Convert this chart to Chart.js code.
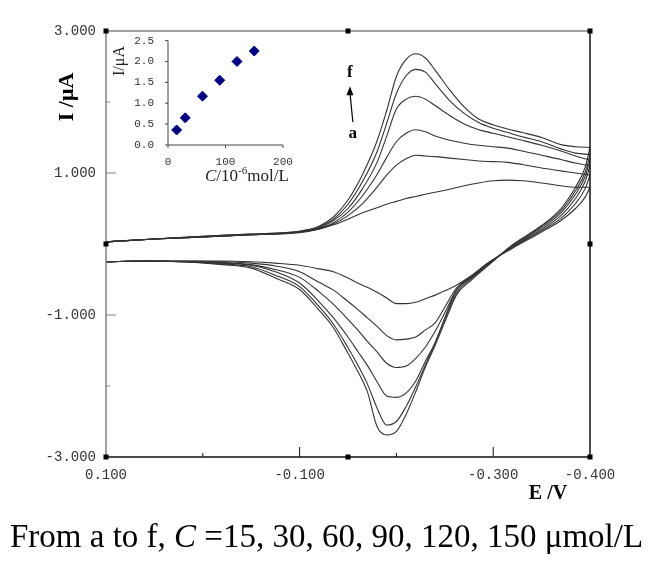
<!DOCTYPE html>
<html lang="en">
<head>
<meta charset="UTF-8">
<title>Cyclic voltammograms</title>
<script src="https://cdn.jsdelivr.net/npm/chart.js@4.4.0/dist/chart.umd.min.js"></script>
<style>
    body { margin: 0; background: #fff; }
    #wrap { position: relative; width: 657px; height: 565px; }
    #cv { position: absolute; left: 0; top: 0; }
    #inset { position: absolute; left: 100px; top: 20px; }
</style>
</head>
<body>
<div id="wrap">
    <canvas id="cv" width="657" height="565"></canvas>
    <canvas id="inset" width="210" height="175"></canvas>
</div>
<script>
// potentials (V): forward sweep 0.1 -> -0.4, then the return sweep back to 0.1
const fwdPotential = [0.1, 0.05, 0, -0.05, -0.1, -0.12, -0.135, -0.15, -0.165, -0.18, -0.19, -0.2, -0.21, -0.22,
    -0.23, -0.24, -0.255, -0.27, -0.285, -0.3, -0.315, -0.33, -0.35, -0.37, -0.385, -0.4];
const revPotential = [-0.395, -0.385, -0.37, -0.35, -0.32, -0.295, -0.278, -0.262, -0.25, -0.24, -0.23, -0.22,
    -0.21, -0.2, -0.19, -0.18, -0.17, -0.16, -0.15, -0.135, -0.12, -0.1, -0.075, -0.05, -0.02, 0.02, 0.06, 0.1];

// currents (uA), curve a (15 umol/L) ... f (150 umol/L)
const aFwd = [0.03, 0.07, 0.10, 0.13, 0.16, 0.21, 0.27, 0.35, 0.44, 0.51, 0.56, 0.60, 0.64, 0.67, 0.70, 0.73, 0.77, 0.82, 0.86, 0.89, 0.90, 0.89, 0.86, 0.82, 0.80, 0.80];
const aRev = [0.66, 0.50, 0.33, 0.17, -0.06, -0.26, -0.44, -0.58, -0.66, -0.72, -0.77, -0.82, -0.84, -0.84, -0.76, -0.68, -0.61, -0.55, -0.48, -0.39, -0.35, -0.30, -0.27, -0.25, -0.24, -0.24, -0.24, -0.25];
const bFwd = [0.03, 0.07, 0.10, 0.13, 0.17, 0.21, 0.28, 0.40, 0.57, 0.80, 0.97, 1.11, 1.20, 1.25, 1.24, 1.23, 1.21, 1.19, 1.17, 1.16, 1.15, 1.12, 1.07, 1.03, 1.00, 0.97];
const bRev = [0.78, 0.57, 0.36, 0.19, -0.05, -0.27, -0.45, -0.62, -0.89, -1.11, -1.21, -1.31, -1.34, -1.35, -1.29, -1.16, -1.04, -0.92, -0.81, -0.65, -0.54, -0.39, -0.31, -0.27, -0.25, -0.24, -0.24, -0.25];
const cFwd = [0.03, 0.07, 0.10, 0.13, 0.17, 0.22, 0.30, 0.45, 0.68, 0.98, 1.22, 1.44, 1.56, 1.61, 1.58, 1.52, 1.46, 1.42, 1.39, 1.37, 1.35, 1.31, 1.25, 1.19, 1.14, 1.10];
const cRev = [0.88, 0.64, 0.40, 0.21, -0.04, -0.27, -0.46, -0.65, -0.97, -1.23, -1.45, -1.61, -1.72, -1.74, -1.68, -1.52, -1.37, -1.21, -1.06, -0.85, -0.67, -0.47, -0.36, -0.29, -0.26, -0.25, -0.24, -0.25];
const dFwd = [0.03, 0.07, 0.10, 0.13, 0.17, 0.23, 0.33, 0.50, 0.78, 1.15, 1.52, 1.90, 2.04, 2.08, 2.04, 1.95, 1.81, 1.69, 1.61, 1.56, 1.51, 1.46, 1.39, 1.31, 1.24, 1.18];
const dRev = [0.95, 0.70, 0.44, 0.23, -0.03, -0.28, -0.47, -0.65, -1.04, -1.39, -1.65, -1.93, -2.10, -2.16, -2.14, -1.94, -1.71, -1.51, -1.31, -1.04, -0.81, -0.55, -0.39, -0.30, -0.27, -0.25, -0.24, -0.25];
const eFwd = [0.03, 0.07, 0.11, 0.14, 0.18, 0.24, 0.35, 0.56, 0.88, 1.30, 1.70, 2.12, 2.37, 2.46, 2.42, 2.26, 2.02, 1.84, 1.71, 1.63, 1.57, 1.51, 1.44, 1.34, 1.28, 1.26];
const eRev = [1.01, 0.75, 0.47, 0.25, -0.02, -0.29, -0.48, -0.69, -1.06, -1.39, -1.70, -2.01, -2.29, -2.50, -2.55, -2.31, -1.97, -1.70, -1.46, -1.13, -0.88, -0.60, -0.44, -0.32, -0.28, -0.25, -0.24, -0.25];
const fFwd = [0.03, 0.07, 0.11, 0.14, 0.18, 0.25, 0.38, 0.62, 0.98, 1.45, 1.88, 2.36, 2.60, 2.68, 2.62, 2.45, 2.17, 1.93, 1.76, 1.68, 1.62, 1.57, 1.50, 1.40, 1.37, 1.36];
const fRev = [1.08, 0.80, 0.50, 0.26, -0.01, -0.30, -0.50, -0.72, -1.10, -1.43, -1.73, -2.08, -2.40, -2.64, -2.69, -2.57, -2.08, -1.79, -1.54, -1.18, -0.93, -0.64, -0.48, -0.34, -0.29, -0.25, -0.24, -0.25];

const xTickValues = [0.1, 0, -0.1, -0.2, -0.3, -0.4];
const xTickLabels = ['0.100', '', '-0.100', '', '-0.300', '-0.400'];
const yTickValues = [-3, -2, -1, 0, 1, 2, 3];
const yTickLabels = ['-3.000', '', '-1.000', '', '1.000', '', '3.000'];

// inset: peak current vs concentration
const concentration = [15, 30, 60, 90, 120, 150];
const peakCurrent = [0.36, 0.65, 1.17, 1.55, 2.00, 2.25];

const curveFwd = [aFwd, bFwd, cFwd, dFwd, eFwd, fFwd];
const curveRev = [aRev, bRev, cRev, dRev, eRev, fRev];

// each sweep is its own dataset; the return sweep starts where the forward one ends
const sweeps = [];
curveFwd.forEach((fwd, k) => {
    sweeps.push(fwdPotential.map((e, i) => ({ x: e, y: fwd[i] })));
    const last = fwdPotential.length - 1;
    sweeps.push([{ x: fwdPotential[last], y: fwd[last] }]
        .concat(revPotential.map((e, i) => ({ x: e, y: curveRev[k][i] }))));
});

function line(ctx, x1, y1, x2, y2) {
    ctx.beginPath();
    ctx.moveTo(x1, y1);
    ctx.lineTo(x2, y2);
    ctx.stroke();
}

const serif = "'Liberation Serif', 'Times New Roman', serif";
const mono = "'Liberation Mono', 'DejaVu Sans Mono', monospace";

const mainDecor = {
    id: 'mainDecor',
    afterDraw(chart) {
        const ctx = chart.ctx;
        const a = chart.chartArea;
        const x = chart.scales.x, y = chart.scales.y;
        ctx.save();

        // frame: top/left grey, right/bottom dark
        ctx.lineWidth = 1.5;
        ctx.strokeStyle = '#808080';
        line(ctx, a.left, a.bottom, a.left, a.top);
        line(ctx, a.left, a.top, a.right, a.top);
        ctx.strokeStyle = '#111';
        line(ctx, a.right, a.top, a.right, a.bottom);
        line(ctx, a.left, a.bottom, a.right, a.bottom);

        // inward tick marks
        ctx.lineWidth = 1;
        xTickValues.forEach((v, i) => {
            if (i === 0 || i === xTickValues.length - 1) return;
            const px = x.getPixelForValue(v);
            line(ctx, px, a.bottom, px, a.bottom - (xTickLabels[i] ? 10 : 4));
        });
        ctx.strokeStyle = '#808080';
        yTickValues.forEach((v, i) => {
            if (i === 0 || i === yTickValues.length - 1 || v === 0) return;
            const py = y.getPixelForValue(v);
            line(ctx, a.left, py, a.left + (yTickLabels[i] ? 10 : 4), py);
        });

        // selection handles at corners and mid-edges
        ctx.fillStyle = '#000';
        const midX = (a.left + a.right) / 2, midY = y.getPixelForValue(0);
        [[a.left, a.top], [midX, a.top], [a.right, a.top], [a.left, midY], [a.right, midY],
         [a.left, a.bottom], [midX, a.bottom], [a.right, a.bottom]].forEach(p => {
            ctx.fillRect(p[0] - 2.5, p[1] - 2.5, 5, 5);
        });

        // axis titles
        ctx.fillStyle = '#000';
        ctx.font = 'bold 22px ' + serif;
        ctx.textAlign = 'center';
        ctx.textBaseline = 'middle';
        ctx.save();
        ctx.translate(67, 97);
        ctx.rotate(-Math.PI / 2);
        ctx.fillText('I /\u03bcA', 0, 0);
        ctx.restore();
        ctx.font = 'bold 20px ' + serif;
        ctx.fillText('E /V', 548, 494);

        // a -> f annotation
        ctx.font = 'bold 17px ' + serif;
        const fx = x.getPixelForValue(-0.152), fy = y.getPixelForValue(2.42);
        const ax = x.getPixelForValue(-0.155), ay = y.getPixelForValue(1.55);
        ctx.fillText('f', fx, fy);
        ctx.fillText('a', ax, ay);
        ctx.strokeStyle = '#000';
        ctx.lineWidth = 1.2;
        line(ctx, ax, ay - 12, fx, fy + 20);
        ctx.beginPath();
        ctx.moveTo(fx, fy + 14);
        ctx.lineTo(fx - 3.5, fy + 23);
        ctx.lineTo(fx + 3.5, fy + 23);
        ctx.closePath();
        ctx.fill();

        // caption
        ctx.textAlign = 'left';
        ctx.textBaseline = 'alphabetic';
        const parts = [['From a to f, ', ''], ['C', 'italic '], [' =15, 30, 60, 90, 120, 150 \u03bcmol/L', '']];
        let cx = 10;
        parts.forEach(p => {
            ctx.font = p[1] + '33px ' + serif;
            ctx.fillText(p[0], cx, 547);
            cx += ctx.measureText(p[0]).width;
        });
        ctx.restore();
    }
};

new Chart(document.getElementById('cv'), {
    type: 'scatter',
    data: {
        datasets: sweeps.map(pts => ({
            data: pts,
            showLine: true,
            borderColor: '#333',
            borderWidth: 1.1,
            pointRadius: 0,
            cubicInterpolationMode: 'monotone',
            fill: false
        }))
    },
    options: {
        responsive: false,
        animation: false,
        layout: { padding: { left: 0, top: 31, right: 67, bottom: 0 } },
        plugins: { legend: { display: false }, tooltip: { enabled: false } },
        scales: {
            x: {
                type: 'linear', min: -0.4, max: 0.1, reverse: true,
                afterBuildTicks: s => { s.ticks = xTickValues.map(v => ({ value: v })); },
                afterFit: s => { s.height = 108; },
                grid: { display: false, drawTicks: false },
                border: { display: false },
                ticks: {
                    padding: 10, color: '#333', maxRotation: 0, autoSkip: false,
                    font: { family: mono, size: 14 },
                    callback: (v, i) => xTickLabels[i]
                }
            },
            y: {
                type: 'linear', min: -3, max: 3,
                afterBuildTicks: s => { s.ticks = yTickValues.map(v => ({ value: v })); },
                afterFit: s => { s.width = 106; },
                grid: { display: false, drawTicks: false },
                border: { display: false },
                ticks: {
                    padding: 10, color: '#333', autoSkip: false,
                    font: { family: mono, size: 14 },
                    callback: (v, i) => yTickLabels[i]
                }
            }
        }
    },
    plugins: [mainDecor]
});

const insetDecor = {
    id: 'insetDecor',
    afterDraw(chart) {
        const ctx = chart.ctx;
        const a = chart.chartArea;
        const x = chart.scales.x, y = chart.scales.y;
        ctx.save();
        ctx.strokeStyle = '#444';
        ctx.lineWidth = 1;
        line(ctx, a.left, a.top, a.left, a.bottom);
        line(ctx, a.left, a.bottom, a.right, a.bottom);
        y.ticks.forEach(t => {
            const py = y.getPixelForValue(t.value);
            line(ctx, a.left - 3, py, a.left, py);
        });
        x.ticks.forEach(t => {
            const px = x.getPixelForValue(t.value);
            line(ctx, px, a.bottom, px, a.bottom + 3);
        });

        ctx.fillStyle = '#222';
        ctx.font = '16px ' + serif;
        ctx.textAlign = 'center';
        ctx.textBaseline = 'middle';
        ctx.save();
        ctx.translate(20, 41);
        ctx.rotate(-Math.PI / 2);
        ctx.fillText('I/\u03bcA', 0, 0);
        ctx.restore();

        ctx.textAlign = 'left';
        ctx.textBaseline = 'alphabetic';
        let cx = 105;
        const base = 161;
        const parts = [['C', 'italic 17px ', 0], ['/10', '17px ', 0], ['-6', '11px ', -7], ['mol/L', '17px ', 0]];
        parts.forEach(p => {
            ctx.font = p[1] + serif;
            ctx.fillText(p[0], cx, base + p[2]);
            cx += ctx.measureText(p[0]).width;
        });
        ctx.restore();
    }
};

new Chart(document.getElementById('inset'), {
    type: 'scatter',
    data: {
        datasets: [{
            data: concentration.map((c, i) => ({ x: c, y: peakCurrent[i] })),
            pointStyle: 'rectRot',
            pointRadius: 5,
            backgroundColor: '#000080',
            borderColor: '#000080'
        }]
    },
    options: {
        responsive: false,
        animation: false,
        layout: { padding: { left: 0, top: 20, right: 27, bottom: 0 } },
        plugins: { legend: { display: false }, tooltip: { enabled: false } },
        scales: {
            x: {
                type: 'linear', min: 0, max: 200,
                afterFit: s => { s.height = 50; },
                grid: { display: false, drawTicks: false },
                border: { display: false },
                ticks: { stepSize: 100, padding: 10, color: '#333', font: { family: mono, size: 11 } }
            },
            y: {
                type: 'linear', min: 0, max: 2.5,
                afterFit: s => { s.width = 68; },
                grid: { display: false, drawTicks: false },
                border: { display: false },
                ticks: {
                    stepSize: 0.5, padding: 14, color: '#333', font: { family: mono, size: 11 },
                    callback: v => v.toFixed(1)
                }
            }
        }
    },
    plugins: [insetDecor]
});
</script>
</body>
</html>
